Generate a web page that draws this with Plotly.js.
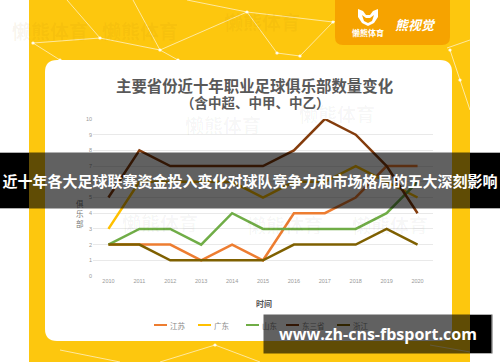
<!DOCTYPE html>
<html>
<head>
<meta charset="utf-8">
<script src="https://cdn.plot.ly/plotly-3.0.1.min.js"></script>
<style>html,body{margin:0;padding:0;background:#fff;}#chart{width:500px;height:362px;}</style>
</head>
<body>
<div id="chart"></div>
<script>
// ---- data ----
const years = [2010, 2011, 2012, 2013, 2014, 2015, 2016, 2017, 2018, 2019, 2020];
const yearLabels = ['2010','2011','2012','2013','2014','2015','2016','2017','2018','2019','2020'];
const jiangsu      = [2, 2, 2, 1, 2, 1, 4, 4, 5, 7, 7];
const guangdong    = [3, 6, 6, 6, 6, 5, 6, 6, 7, 6, 5];
const shandong     = [2, 3, 3, 2, 4, 3, 3, 3, 3, 4, 6];
const dongsansheng = [5, 8, 7, 7, 7, 7, 8, 10, 9, 7, 4];
const zhejiang     = [2, 2, 1, 1, 1, 1, 2, 2, 2, 3, 2];
const seriesNames  = ['江苏', '广东', '山东', '东三省', '浙江'];
const seriesValues = [jiangsu, guangdong, shandong, dongsansheng, zhejiang];
const yTicks = [0, 1, 2, 3, 4, 5, 6, 7, 8, 9, 10];
const chartTitle = '主要省份近十年职业足球俱乐部数量变化';
const chartSubtitle = '（含中超、中甲、中乙）';
const xTitle = '时间';
const yTitle = '俱乐部';
const bannerText = '近十年各大足球联赛资金投入变化对球队竞争力和市场格局的五大深刻影响';
const siteText = 'www.zh-cns-fbsport.com';
const brandText = '懒熊体育';
const brandText2 = '熊视觉';

// ---- style ----
const seriesColors = ['#ED7D31', '#FFC000', '#70AD47', '#843C0C', '#7F6000'];
const W = 500, H = 362;
const X = v => v / W;
const Y = v => 1 - v / H;
const CJK = '"Noto Sans CJK SC", "Noto Sans", sans-serif';

function rr(x0, y0, x1, y1, r) {
  const f = (a, b) => X(a).toFixed(4) + ',' + Y(b).toFixed(4);
  return 'M' + f(x0 + r, y0) + ' L' + f(x1 - r, y0) + ' Q' + f(x1, y0) + ' ' + f(x1, y0 + r) +
    ' L' + f(x1, y1 - r) + ' Q' + f(x1, y1) + ' ' + f(x1 - r, y1) +
    ' L' + f(x0 + r, y1) + ' Q' + f(x0, y1) + ' ' + f(x0, y1 - r) +
    ' L' + f(x0, y0 + r) + ' Q' + f(x0, y0) + ' ' + f(x0 + r, y0) + ' Z';
}
function poly(pts) {
  return 'M' + pts.map(p => X(p[0]).toFixed(4) + ',' + Y(p[1]).toFixed(4)).join(' L') + ' Z';
}

const traces = seriesNames.map((n, i) => ({
  type: 'scatter', mode: 'lines', name: n, x: years, y: seriesValues[i],
  line: { color: seriesColors[i], width: 2.5 }, showlegend: false, hoverinfo: 'skip'
}));

const shapes = [];
// yellow panel
shapes.push({ type: 'rect', xref: 'paper', yref: 'paper', x0: X(29), x1: X(470), y0: Y(362), y1: Y(0),
  fillcolor: '#FDC70E', line: { width: 0 }, layer: 'below' });
// network lines on yellow
const net = [
  [[67,0],[100,38]], [[100,38],[160,50]], [[160,50],[178,60]], [[100,38],[33,43]],
  [[187,0],[247,12]], [[247,12],[333,22]], [[247,12],[277,53]], [[247,12],[160,50]],
  [[133,0],[160,50]], [[333,22],[300,56]], [[333,22],[390,0]], [[277,53],[300,56]],
  [[33,43],[60,60]], [[450,50],[470,110]], [[447,48],[470,40]],
  [[160,362],[215,345]], [[215,345],[260,362]], [[60,350],[120,362]], [[430,345],[470,352]]
];
net.forEach(s => shapes.push({ type: 'line', xref: 'paper', yref: 'paper',
  x0: X(s[0][0]), y0: Y(s[0][1]), x1: X(s[1][0]), y1: Y(s[1][1]),
  line: { color: 'rgba(255,255,255,0.75)', width: 0.8 }, layer: 'below' }));
const dots = [[100,38],[160,50],[247,12],[333,22],[277,53],[300,56],[33,43],[178,60],[450,50],[460,80],[215,345],[60,60]];
dots.forEach(d => shapes.push({ type: 'circle', xref: 'paper', yref: 'paper',
  x0: X(d[0]-1.6), x1: X(d[0]+1.6), y0: Y(d[1]+1.6), y1: Y(d[1]-1.6),
  fillcolor: 'rgba(255,255,255,0.9)', line: { width: 0 }, layer: 'below' }));
// orange logo box
shapes.push({ type: 'path', xref: 'paper', yref: 'paper', path: rr(335, -10, 450, 45, 8),
  fillcolor: '#F6A300', line: { width: 0 }, layer: 'below' });
// bear icon
shapes.push({ type: 'path', xref: 'paper', yref: 'paper',
  path: poly([[358,9],[363,11],[366,15],[370,15],[373,11],[378,9],[378,17],[374,23],[368,26],[362,23],[358,17]]),
  fillcolor: '#ffffff', line: { width: 0 }, layer: 'below' });
shapes.push({ type: 'path', xref: 'paper', yref: 'paper',
  path: poly([[362,15],[366,18],[370,18],[374,15],[372,21],[368,23],[364,21]]),
  fillcolor: '#F6A300', line: { width: 0 }, layer: 'below' });
// white card
shapes.push({ type: 'path', xref: 'paper', yref: 'paper', path: rr(45, 60, 452, 341, 12),
  fillcolor: '#ffffff', line: { width: 0 }, layer: 'below' });

// legend lines
const legStart = [154, 198, 246, 286, 337];
seriesNames.forEach((n, i) => shapes.push({ type: 'line', xref: 'paper', yref: 'paper',
  x0: X(legStart[i]), x1: X(legStart[i] + 13), y0: Y(325), y1: Y(325),
  line: { color: seriesColors[i], width: 2 }, layer: 'above' }));

// opaque black at margins under overlays
shapes.push({ type: 'rect', xref: 'paper', yref: 'paper', x0: 0, x1: X(29), y0: Y(208), y1: Y(153),
  fillcolor: '#000', line: { width: 0 }, layer: 'above' });
shapes.push({ type: 'rect', xref: 'paper', yref: 'paper', x0: X(470), x1: 1, y0: Y(208), y1: Y(153),
  fillcolor: '#000', line: { width: 0 }, layer: 'above' });
shapes.push({ type: 'rect', xref: 'paper', yref: 'paper', x0: X(470), x1: X(491), y0: Y(353), y1: Y(315),
  fillcolor: '#000', line: { width: 0 }, layer: 'above' });

const annotations = [];
function ann(text, x, y, font, opts) {
  annotations.push(Object.assign({ text: text, xref: 'paper', yref: 'paper', x: X(x), y: Y(y),
    xanchor: 'center', yanchor: 'middle', showarrow: false, font: font }, opts || {}));
}
// faint watermarks (kept clear of other texts)
const faint = [[50,30],[140,30],[262,22],[223,124],[337,114],[160,222],[285,224],[390,224]];
faint.forEach(p => ann(brandText, p[0], p[1],
  { family: CJK, size: 19, weight: 700, color: p[1] < 60 ? 'rgba(170,110,0,0.07)' : 'rgba(0,0,0,0.035)' }));
// brand
ann(brandText, 368, 32, { family: CJK, size: 8, color: '#fff', weight: 700 });
ann(brandText2, 415, 25, { family: CJK, size: 13, color: '#fff', weight: 700, style: 'italic' });
// titles
ann(chartTitle, 254, 85, { family: CJK, size: 15.4, color: '#595959', weight: 700 });
ann(chartSubtitle, 255, 102, { family: CJK, size: 13.5, color: '#595959', weight: 700 });
ann(xTitle, 264, 303, { family: CJK, size: 8, color: '#555', weight: 700 });
ann(yTitle.split('').join('<br>'), 80, 213, { family: CJK, size: 7.5, color: '#777' });
// legend texts
seriesNames.forEach((n, i) => ann(n, legStart[i] + 14, 325, { family: CJK, size: 7.5, color: '#8a8a8a' }, { xanchor: 'left' }));
// banner
ann(bannerText, 250, 180.5, { family: CJK, size: 15, color: '#fff', weight: 700 },
  { width: 500, height: 55, bgcolor: 'rgba(0,0,0,0.62)', borderpad: 0 });
// site watermark
ann(siteText, 263, 334, { family: '"Open Sans", "DejaVu Sans", sans-serif', size: 16, color: '#fff', weight: 700 },
  { xanchor: 'left', width: 228, height: 38, bgcolor: 'rgba(0,0,0,0.62)', borderpad: 0 });

const layout = {
  width: W, height: H, margin: { l: 0, r: 0, t: 0, b: 0, pad: 0 },
  paper_bgcolor: '#ffffff', plot_bgcolor: 'rgba(0,0,0,0)', showlegend: false,
  xaxis: { domain: [X(93), X(433)], range: [2009.5, 2020.5], tickvals: years, ticktext: yearLabels,
    showgrid: false, zeroline: false, showline: false, ticks: '', fixedrange: true,
    tickfont: { family: '"Liberation Sans", sans-serif', size: 5.5, color: '#999' } },
  yaxis: { domain: [Y(276), Y(119)], range: [0, 10], tickvals: yTicks,
    showgrid: true, gridcolor: '#e3e3e3', gridwidth: 0.8, zeroline: false, showline: false, ticks: '',
    fixedrange: true, tickfont: { family: '"Liberation Sans", sans-serif', size: 5.5, color: '#999' } },
  shapes: shapes, annotations: annotations
};
Plotly.newPlot('chart', traces, layout, { displayModeBar: false, staticPlot: true });
</script>
</body>
</html>
